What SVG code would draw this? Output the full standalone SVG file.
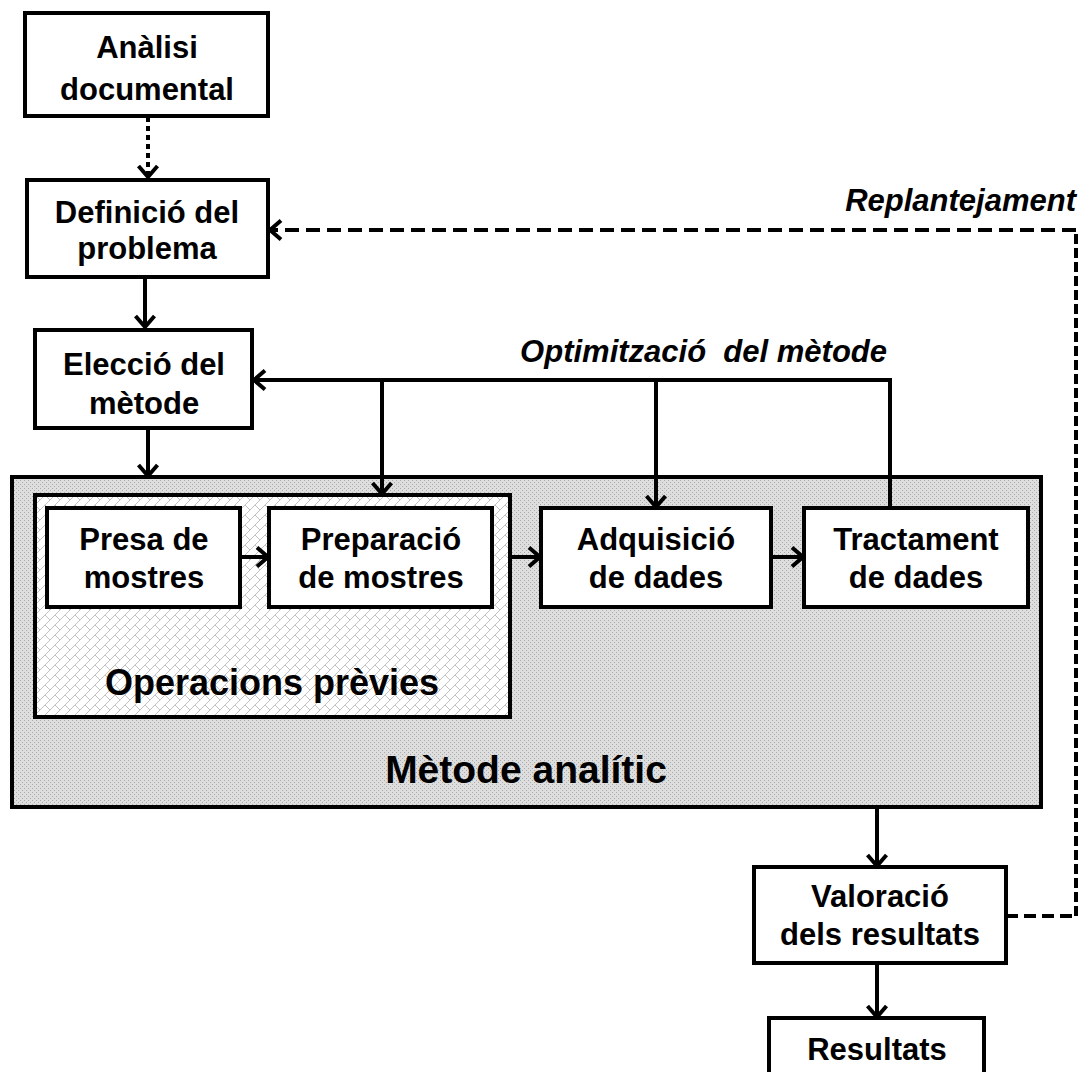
<svg xmlns="http://www.w3.org/2000/svg" width="1079" height="1072" viewBox="0 0 1079 1072">
<style>
.box{fill:#fff;stroke:#000;stroke-width:4}
.t{font-family:"Liberation Sans",Arial,sans-serif;font-weight:bold;font-size:31px;text-anchor:middle;fill:#000}
.it{font-family:"Liberation Sans",Arial,sans-serif;font-weight:bold;font-style:italic;font-size:31px;fill:#000}
.c{fill:none;stroke:#000;stroke-width:4}
</style>
<defs>
<pattern id="gray" width="4" height="4" patternUnits="userSpaceOnUse">
<rect width="4" height="4" fill="#dedede"/>
<rect x="0" y="0" width="1" height="1" fill="#aaaaaa"/>
<rect x="2" y="2" width="1" height="1" fill="#aaaaaa"/>
</pattern>
<pattern id="brick" width="10" height="10" patternUnits="userSpaceOnUse">
<rect width="10" height="10" fill="#fff"/>
<path d="M-1,11 L11,-1 M5,5 L10,10" stroke="#c2c2c2" stroke-width="1" fill="none"/>
</pattern>
<marker id="ah" viewBox="0 0 24 24" markerWidth="24" markerHeight="24" refX="14" refY="12" orient="auto" markerUnits="userSpaceOnUse">
<path d="M3,2.5 L14,12 L3,21.5" fill="none" stroke="#000" stroke-width="4"/>
</marker>
</defs>

<g id="metode-analitic">
<rect x="12" y="477" width="1029" height="330" fill="url(#gray)" stroke="#000" stroke-width="4"/>
<text class="t" x="526" y="783" style="font-size:39px">Mètode analític</text>
</g>
<g id="operacions-previes">
<rect x="35" y="495" width="475" height="222" fill="url(#brick)" stroke="#000" stroke-width="4"/>
<text class="t" x="272" y="695" style="font-size:36px">Operacions prèvies</text>
</g>

<g id="analisi">
<rect class="box" x="25" y="13" width="243" height="103"/>
<text class="t" x="147" y="58">Anàlisi</text>
<text class="t" x="147" y="100">documental</text>
</g>
<g id="definicio">
<rect class="box" x="27" y="180" width="241" height="97"/>
<text class="t" x="147" y="223">Definició del</text>
<text class="t" x="147" y="259">problema</text>
</g>
<g id="eleccio">
<rect class="box" x="35" y="330" width="217" height="98"/>
<text class="t" x="144" y="375">Elecció del</text>
<text class="t" x="144" y="414">mètode</text>
</g>
<g id="presa">
<rect class="box" x="47" y="508" width="193" height="99"/>
<text class="t" x="144" y="550">Presa de</text>
<text class="t" x="144" y="588">mostres</text>
</g>
<g id="preparacio">
<rect class="box" x="269" y="508" width="223" height="99"/>
<text class="t" x="381" y="550">Preparació</text>
<text class="t" x="381" y="588">de mostres</text>
</g>
<g id="adquisicio">
<rect class="box" x="541" y="508" width="230" height="99"/>
<text class="t" x="656" y="550">Adquisició</text>
<text class="t" x="656" y="588">de dades</text>
</g>
<g id="tractament">
<rect class="box" x="804" y="508" width="224" height="99"/>
<text class="t" x="916" y="550">Tractament</text>
<text class="t" x="916" y="588">de dades</text>
</g>
<g id="valoracio">
<rect class="box" x="754" y="867" width="252" height="96"/>
<text class="t" x="880" y="907">Valoració</text>
<text class="t" x="880" y="945">dels resultats</text>
</g>
<g id="resultats">
<rect class="box" x="769" y="1018" width="215" height="70"/>
<text class="t" x="877" y="1060">Resultats</text>
</g>

<g id="connectors">
<path class="c" d="M148,117 V177" stroke-dasharray="5,4" marker-end="url(#ah)"/>
<path class="c" d="M145,277 V327" marker-end="url(#ah)"/>
<path class="c" d="M148,428 V476" marker-end="url(#ah)"/>
<path class="c" d="M890,508 V380 H254" marker-end="url(#ah)"/>
<path class="c" d="M382,380 V494" marker-end="url(#ah)"/>
<path class="c" d="M656,380 V507" marker-end="url(#ah)"/>
<path class="c" d="M240,557 H268" marker-end="url(#ah)"/>
<path class="c" d="M510,557 H540" marker-end="url(#ah)"/>
<path class="c" d="M771,557 H803" marker-end="url(#ah)"/>
<path class="c" d="M877,807 V866" marker-end="url(#ah)"/>
<path class="c" d="M877,963 V1017" marker-end="url(#ah)"/>
<path class="c" d="M1006,916 H1076" stroke-dasharray="12,6"/>
<path class="c" d="M1076,916 V230" stroke-dasharray="10,4"/>
<path class="c" d="M1076,230 H270" stroke-dasharray="14,7" marker-end="url(#ah)"/>
<text class="it" x="887" y="362" text-anchor="end" xml:space="preserve">Optimització  del mètode</text>
<text class="it" x="1076" y="211" text-anchor="end">Replantejament</text>
</g>
</svg>
